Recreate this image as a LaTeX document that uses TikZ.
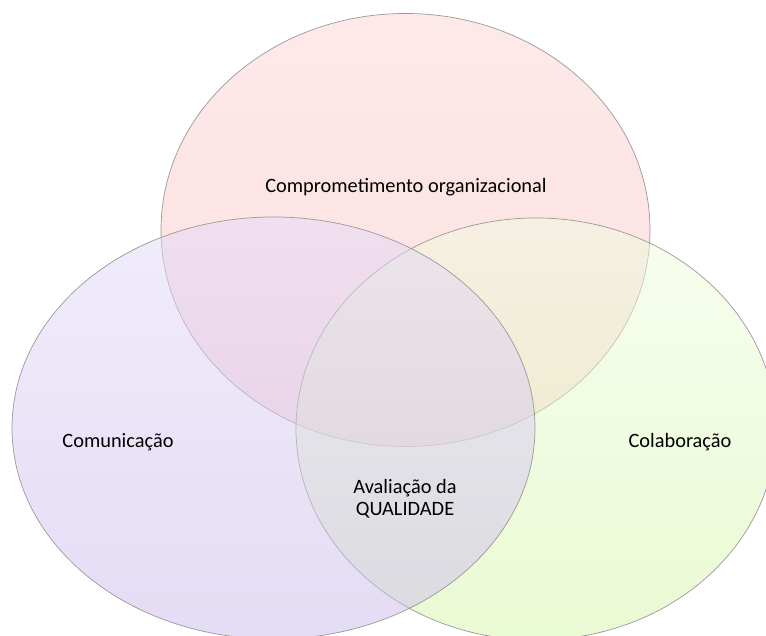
\documentclass[tikz,border=0pt]{standalone}
\usepackage{fontspec}
\setmainfont{Carlito}
\usetikzlibrary{positioning}
\definecolor{pinkTop}{RGB}{253,211,211}
\definecolor{pinkBot}{RGB}{249,191,195}
\definecolor{lilaTop}{RGB}{227,219,247}
\definecolor{lilaBot}{RGB}{203,185,235}
\definecolor{verdeTop}{RGB}{239,253,223}
\definecolor{verdeBot}{RGB}{213,245,167}
\tikzset{
  set area/.style={draw=black!40,line width=0.4pt,fill opacity=0.5},
  set label/.style={font=\fontsize{11.6}{12.5}\selectfont,text=black,inner sep=0pt},
}

\begin{document}
\begin{tikzpicture}[x=0.02cm,y=0.02cm]
  \useasboundingbox (0,0) rectangle (766,635);
  \clip (0,0) rectangle (766,635);
  % the three sets
  \shade[set area,top color=pinkTop,bottom color=pinkBot] (405.5,405) ellipse [x radius=244.5,y radius=216.5];
  \shade[set area,top color=verdeTop,bottom color=verdeBot] (536,206) ellipse [x radius=240,y radius=211];
  \shade[set area,top color=lilaTop,bottom color=lilaBot] (273.5,207) ellipse [x radius=261.5,y radius=211];
  % labels
  \node[set label] (compromisso) at (406,448) {Comprometimento organizacional};
  \node[set label] (comunicacao) at (118,193) {Comunicação};
  \node[set label] (colaboracao) at (680,193) {Colaboração};
  \node[set label,align=center] (qualidade) at (405,136) {Avaliação da\\QUALIDADE};
\end{tikzpicture}
\end{document}
